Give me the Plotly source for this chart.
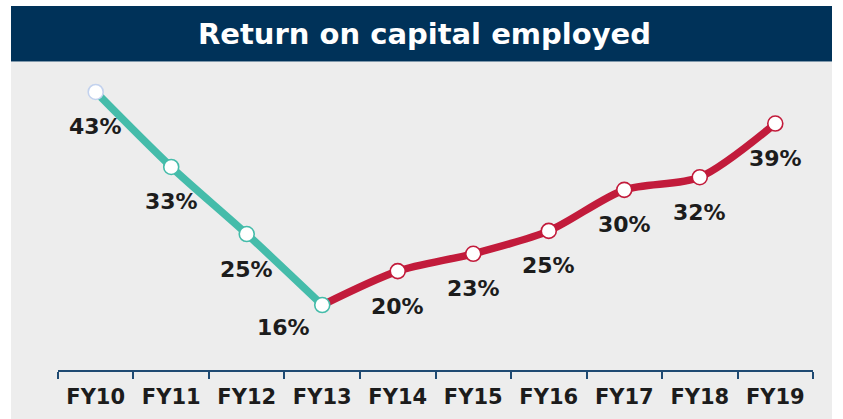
import plotly.graph_objects as go

categories = ["FY10", "FY11", "FY12", "FY13", "FY14", "FY15", "FY16", "FY17", "FY18", "FY19"]
roce = [43.0, 33.5, 25.0, 16.0, 20.3, 22.5, 25.4, 30.6, 32.2, 39.0]
labels = ["43%", "33%", "25%", "16%", "20%", "23%", "25%", "30%", "32%", "39%"]
title_text = "Return on capital employed"

TEAL = "#45bcaa"
RED = "#c21b3b"
NAVY = "#003259"
GRAY = "#ededed"
TEXT = "#1c1c1c"
FONT = "DejaVu Sans"

split = 3  # FY13 joins both segments

fig = go.Figure()
# red segment (FY13 -> FY19)
fig.add_trace(go.Scatter(
    x=categories[split:], y=roce[split:], mode="lines",
    line=dict(color=RED, width=7.5, shape="spline", smoothing=0.8),
    hoverinfo="skip", showlegend=False))
# teal segment (FY10 -> FY13)
fig.add_trace(go.Scatter(
    x=categories[:split + 1], y=roce[:split + 1], mode="lines",
    line=dict(color=TEAL, width=7.5, shape="spline", smoothing=0.8),
    hoverinfo="skip", showlegend=False))
# markers
outline = ["#c3d2ee"] + [TEAL] * split + [RED] * (len(categories) - split - 1)
fig.add_trace(go.Scatter(
    x=categories, y=roce, mode="markers",
    marker=dict(size=15, color="white", line=dict(color=outline, width=1.6)),
    showlegend=False))

# data labels
for i, (c, v, t) in enumerate(zip(categories, roce, labels)):
    if i == split:
        fig.add_annotation(x=c, y=v, text=t, showarrow=False, xshift=-39, yshift=-22,
                           font=dict(family=FONT, size=22, color=TEXT, weight="bold"))
    else:
        fig.add_annotation(x=c, y=v, text=t, showarrow=False, yshift=-35,
                           font=dict(family=FONT, size=22, color=TEXT, weight="bold"))

# title bar
fig.add_shape(type="rect", xref="paper", yref="paper", x0=0, x1=1, y0=1.0016, y1=1.1818,
              fillcolor=NAVY, line_width=0, layer="above")
fig.add_annotation(xref="paper", yref="paper", x=0.504, y=1.092, xanchor="center",
                   yanchor="middle", text=title_text, showarrow=False,
                   font=dict(family=FONT, size=29, color="white", weight="bold"))
# gray panel
fig.add_shape(type="rect", xref="paper", yref="paper", x0=0, x1=1, y0=-0.16, y1=1.0,
              fillcolor=GRAY, line_width=0, layer="below")

fig.update_layout(
    width=843, height=419,
    margin=dict(l=11, r=11, t=62, b=49),
    paper_bgcolor="white", plot_bgcolor=GRAY,
    xaxis=dict(domain=[0.0572, 0.9769], type="category",
               categoryorder="array", categoryarray=categories, range=[-0.5, 9.5],
               showline=True, linecolor="#1f4a72", linewidth=2,
               ticks="outside", tickson="boundaries", ticklen=7, tickwidth=2,
               tickcolor="#1f4a72", showgrid=False, zeroline=False,
               tickfont=dict(family=FONT, size=21, color=TEXT, weight="bold"),
               ticklabelstandoff=7),
    yaxis=dict(range=[7.77, 46.8], visible=False, showgrid=False, zeroline=False),
)

fig.write_html("out.html", config={"displayModeBar": False},
               post_script="document.body.style.margin='0';")
